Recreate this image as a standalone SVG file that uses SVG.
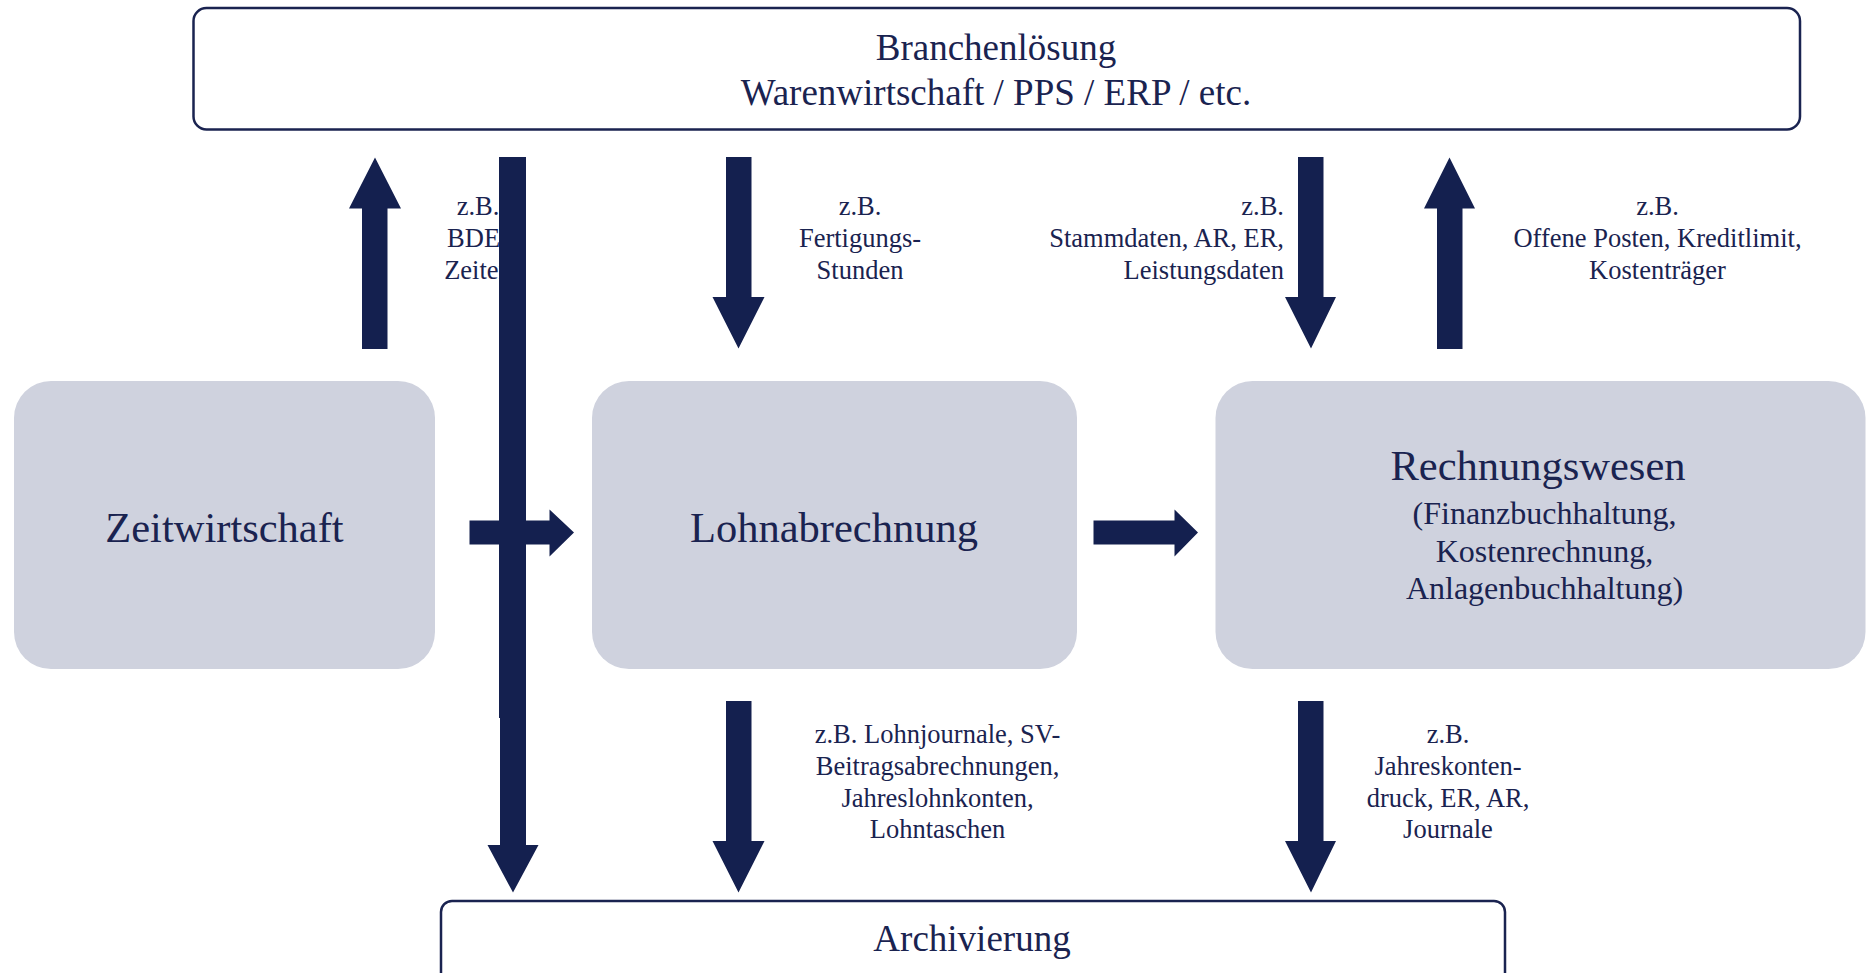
<svg xmlns="http://www.w3.org/2000/svg" width="1867" height="973" viewBox="0 0 1867 973">
<style>
.t{font-family:"Liberation Serif","Times New Roman",serif;fill:#1a2350}
.big{font-size:42.5px;text-anchor:middle}
.sub{font-size:32px;text-anchor:middle}
.hdr{font-size:37px;text-anchor:middle}
.lbl{font-size:26.5px}
.c{text-anchor:middle}
.e{text-anchor:end}
.box{fill:#cfd2de}
.frame{fill:#ffffff;stroke:#1a2350;stroke-width:2.5}
.arr{fill:#14204f}
</style>
<rect width="1867" height="973" fill="#ffffff"/>
<g id="branchenloesung">
<rect class="frame" x="193.5" y="8" width="1606.5" height="121.5" rx="13"/>
<text class="t hdr" x="996" y="59.5">Branchenlösung</text>
<text class="t hdr" x="996" y="104.5">Warenwirtschaft / PPS / ERP / etc.</text>
</g>
<g id="archivierung">
<rect class="frame" x="441" y="901" width="1064" height="110" rx="11"/>
<text class="t hdr" x="972" y="951">Archivierung</text>
</g>
<g id="zeitwirtschaft">
<rect class="box" x="14" y="381" width="421" height="288" rx="37"/>
<text class="t big" x="224.5" y="541.5">Zeitwirtschaft</text>
</g>
<g id="lohnabrechnung">
<rect class="box" x="592" y="381" width="485" height="288" rx="37"/>
<text class="t big" x="834" y="541.5">Lohnabrechnung</text>
</g>
<g id="rechnungswesen">
<rect class="box" x="1215.5" y="381" width="650" height="288" rx="37"/>
<text class="t big" x="1538" y="480">Rechnungswesen</text>
<text class="t sub" x="1544.5" y="524">(Finanzbuchhaltung,</text>
<text class="t sub" x="1544.5" y="561.5">Kostenrechnung,</text>
<text class="t sub" x="1544.5" y="599">Anlagenbuchhaltung)</text>
</g>
<g id="labels">
<text class="t lbl c" x="478" y="215">z.B.</text>
<text class="t lbl c" x="478" y="247">BDE-</text>
<text class="t lbl c" x="478" y="278.5">Zeiten</text>
<text class="t lbl c" x="860" y="215">z.B.</text>
<text class="t lbl c" x="860" y="247">Fertigungs-</text>
<text class="t lbl c" x="860" y="278.5">Stunden</text>
<text class="t lbl e" x="1284" y="215">z.B.</text>
<text class="t lbl e" x="1284" y="247">Stammdaten, AR, ER,</text>
<text class="t lbl e" x="1284" y="278.5">Leistungsdaten</text>
<text class="t lbl c" x="1657.5" y="215">z.B.</text>
<text class="t lbl c" x="1657.5" y="247">Offene Posten, Kreditlimit,</text>
<text class="t lbl c" x="1657.5" y="278.5">Kostenträger</text>
<text class="t lbl c" x="937.5" y="743">z.B. Lohnjournale, SV-</text>
<text class="t lbl c" x="937.5" y="775">Beitragsabrechnungen,</text>
<text class="t lbl c" x="937.5" y="806.5">Jahreslohnkonten,</text>
<text class="t lbl c" x="937.5" y="838">Lohntaschen</text>
<text class="t lbl c" x="1448" y="743">z.B.</text>
<text class="t lbl c" x="1448" y="775">Jahreskonten-</text>
<text class="t lbl c" x="1448" y="806.5">druck, ER, AR,</text>
<text class="t lbl c" x="1448" y="838">Journale</text>
</g>
<g id="connectors">
<path class="arr" d="M362,349 V208.5 H349 L375,157.5 L401,208.5 H387.5 V349 Z"/>
<path class="arr" d="M726,157 H751.5 V297 H764.5 L738.5,348.5 L712.5,297 H726 Z"/>
<path class="arr" d="M1298,157 H1323.5 V297 H1336 L1311,348.5 L1285,297 H1298 Z"/>
<path class="arr" d="M1437,349 V208.5 H1424 L1449.5,157.5 L1475,208.5 H1462.5 V349 Z"/>
<path class="arr" d="M469.5,520.5 H549.5 V509.5 L574,532.5 L549.5,556.5 V544.5 H469.5 Z"/>
<path class="arr" d="M1093.5,520.5 H1174.5 V509.5 L1198,532.5 L1174.5,556.5 V544.5 H1093.5 Z"/>
<path class="arr" d="M499,157 H526 V845 H538.5 L513,892.5 L487.5,845 H500 V718 H499 Z"/>
<path class="arr" d="M726,701 H751.5 V841 H764.5 L738.5,892.5 L712.5,841 H726 Z"/>
<path class="arr" d="M1298,701 H1323.5 V841 H1336 L1311,892.5 L1285,841 H1298 Z"/>
</g>
</svg>
